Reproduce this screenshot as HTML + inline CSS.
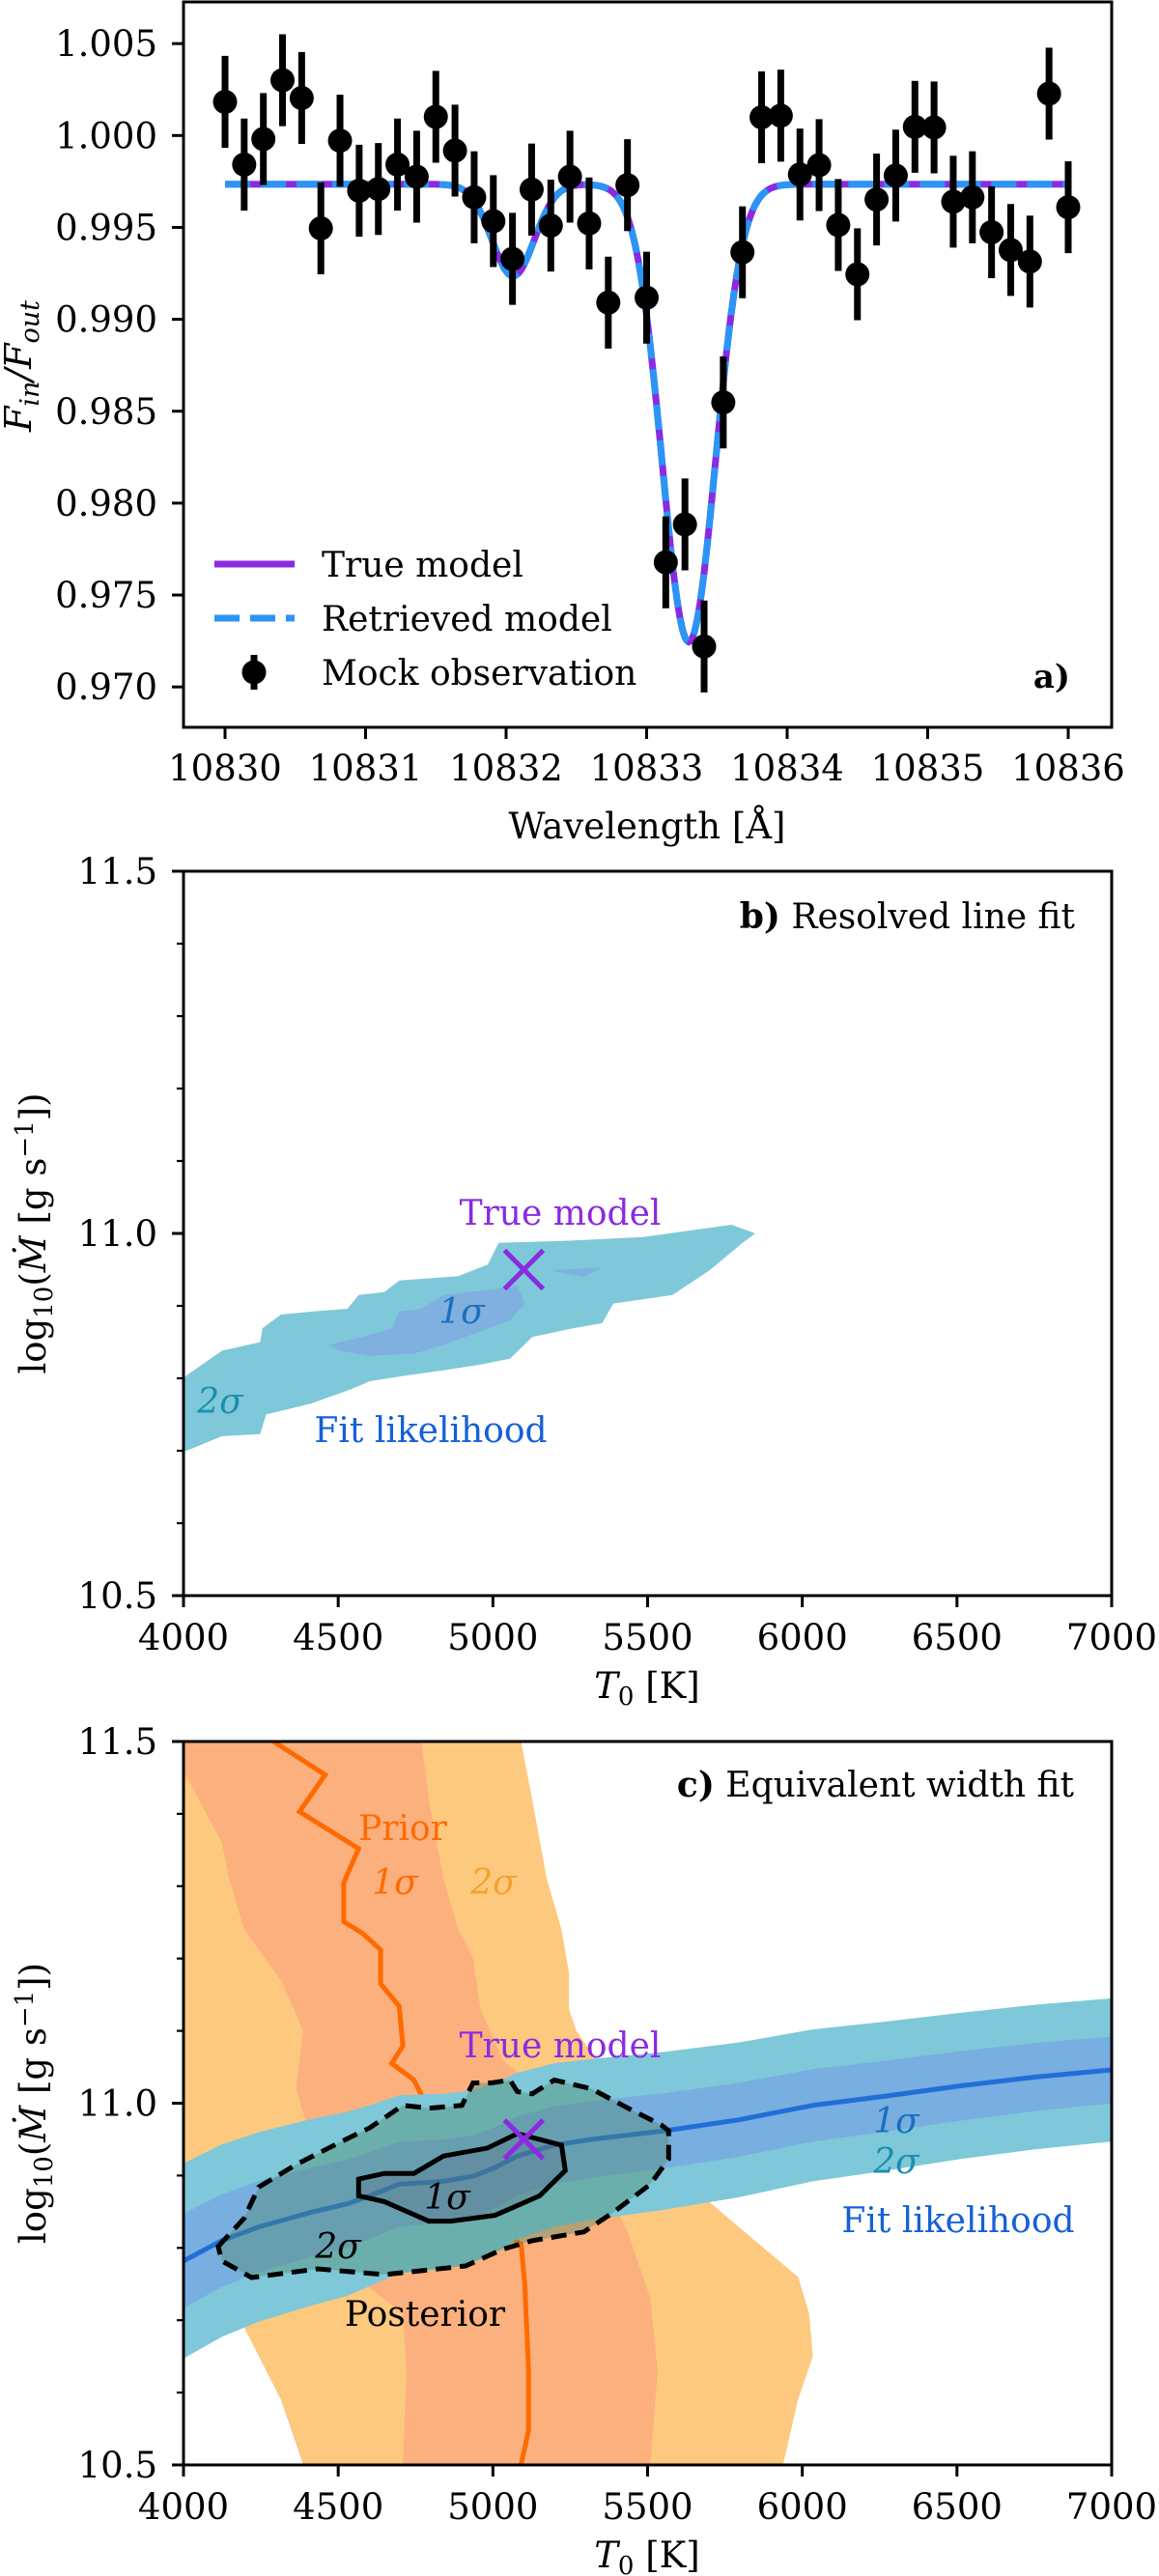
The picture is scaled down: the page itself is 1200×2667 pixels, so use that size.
<!DOCTYPE html>
<html><head><meta charset="utf-8"><style>
html,body{margin:0;padding:0;background:#fff;}
svg{display:block;font-family:"DejaVu Serif","Liberation Serif",serif;}
</style></head><body>
<svg id="fig" width="1200" height="2667" viewBox="0 0 1200 2667" xmlns="http://www.w3.org/2000/svg"></svg>
<script>
// ---------- Panel a data ----------
const obsFlux = [1.00183,0.99842,0.99981,1.00301,1.00204,0.99495,0.99972,0.99700,0.99709,0.99842,0.99776,1.00102,0.99918,0.99664,0.99534,0.99329,0.99706,0.99510,0.99776,0.99522,0.99091,0.99730,0.99118,0.97678,0.97884,0.97220,0.98548,0.99365,1.00099,1.00108,0.99788,0.99839,0.99513,0.99245,0.99652,0.99782,1.00047,1.00044,0.99640,0.99664,0.99474,0.99377,0.99314,1.00228,0.99610];
const obsErr = 0.0025;
const obsStart = 10830, obsEnd = 10836;
const modelBaseline = 0.99735;
const lineCenters = [10832.05, 10833.30];
const lineDepths = [0.0050, 0.0249];
const lineSigmas = [0.15, 0.19];
const aYTicks = [1.005,1.000,0.995,0.990,0.985,0.980,0.975,0.970];
const aXTicks = [10830,10831,10832,10833,10834,10835,10836];
// ---------- Panel b data ----------
const bSig2T = [4000,4010,4124,4248,4255,4315,4411,4530,4566,4649,4697,4888,4983,5019,5246,5485,5771,5848,5807,5700,5580,5389,5353,5258,5127,5055,4960,4840,4721,4602,4542,4411,4267,4248,4124,4010,4000];
const bSig2M = [10.80,10.804,10.838,10.850,10.869,10.888,10.892,10.896,10.915,10.919,10.935,10.941,10.957,10.987,10.990,10.995,11.012,11.000,10.987,10.949,10.915,10.903,10.876,10.869,10.857,10.827,10.819,10.811,10.804,10.796,10.785,10.765,10.750,10.723,10.720,10.700,10.700];
const bSig1T = [4470,4578,4673,4697,4769,4840,4983,5079,5103,5055,4936,4840,4745,4602,4506];
const bSig1M = [10.846,10.857,10.869,10.892,10.896,10.915,10.922,10.928,10.903,10.880,10.861,10.846,10.834,10.831,10.838];
const bBlobT = [5186,5353,5294];
const bBlobM = [10.949,10.953,10.940];
const trueT = 5100, trueM = 10.95;
const xTicksT = [4000,4500,5000,5500,6000,6500,7000];
const yTicksM = [11.5,11.0,10.5];
// ---------- Panel c data ----------
const prior2T = [4000,4000,4196,4315,4387,5938,5986,6034,6022,5986,5819,5600,5450,5401,5318,5270,5246,5246,5222,5174,5127,5091];
const prior2M = [11.5,10.90,10.69,10.59,10.50,10.50,10.59,10.65,10.71,10.76,10.82,10.90,10.98,11.03,11.07,11.10,11.13,11.18,11.24,11.31,11.42,11.5];
const prior1T = [4000,4000,4124,4148,4196,4315,4387,4363,4450,4554,4709,4721,4709,5509,5532,5509,5437,5350,5200,5031,4960,4936,4888,4840,4793,4769];
const prior1M = [11.5,11.46,11.36,11.31,11.24,11.17,11.10,11.02,10.90,10.76,10.71,10.63,10.50,10.50,10.63,10.73,10.82,10.90,11.00,11.06,11.13,11.20,11.24,11.31,11.42,11.5];
const priorLineT = [4291,4458,4375,4506,4566,4518,4518,4578,4637,4637,4697,4709,4673,4745,4781,4840,4936,4960,5007,5091,5103,5115,5115,5091];
const priorLineM = [11.5,11.454,11.403,11.368,11.352,11.305,11.251,11.235,11.212,11.165,11.134,11.079,11.055,11.032,11.001,10.946,10.915,10.868,10.829,10.805,10.751,10.634,10.548,10.50];
const fitT = [4000,4124,4243,4411,4530,4602,4697,4840,4936,5007,5079,5198,5318,5557,5795,6034,6273,6512,6750,7000];
const fitM = [10.782,10.810,10.829,10.849,10.861,10.872,10.888,10.892,10.899,10.911,10.927,10.942,10.950,10.962,10.977,10.997,11.010,11.024,11.036,11.046];
const fitHw1 = [0.065,0.064,0.063,0.062,0.061,0.060,0.059,0.058,0.057,0.056,0.055,0.054,0.053,0.052,0.051,0.050,0.049,0.048,0.047,0.046];
const fitHw2 = [0.135,0.133,0.131,0.129,0.127,0.125,0.123,0.121,0.119,0.117,0.115,0.113,0.111,0.109,0.107,0.105,0.103,0.101,0.100,0.099];
const post2T = [4112,4196,4243,4363,4506,4602,4709,4793,4900,4936,4995,5055,5079,5127,5198,5318,5437,5544,5568,5568,5509,5389,5294,5127,5031,4912,4649,4434,4220,4124];
const post2M = [10.802,10.841,10.884,10.915,10.946,10.966,10.997,10.993,10.997,11.028,11.028,11.032,11.016,11.013,11.032,11.020,10.993,10.970,10.962,10.923,10.888,10.849,10.822,10.810,10.798,10.775,10.763,10.771,10.759,10.782];
const post1T = [4566,4649,4745,4840,4983,5079,5222,5234,5151,5007,4864,4793,4649,4566];
const post1M = [10.895,10.903,10.903,10.927,10.938,10.958,10.942,10.907,10.872,10.845,10.837,10.837,10.864,10.872];

const NS = "http://www.w3.org/2000/svg";
const svg = document.getElementById('fig');
function mk(tag, attrs, parent){
  const e = document.createElementNS(NS, tag);
  for (const k in attrs) e.setAttribute(k, attrs[k]);
  (parent||svg).appendChild(e);
  return e;
}
const L = 190, R = 1151;
const aTop = 2, aBot = 753;
const ax = v => 233 + (v - 10830) * 145.5;
const ay = v => 140.3 + (1.000 - v) / 0.005 * 95.15;
const tx = v => L + (v - 4000) / 3000 * (R - L);
const bTop = 902, bBot = 1652, cTop = 1803, cBot = 2552;
const by = v => bBot - (v - 10.5) * (bBot - bTop);
const cy = v => cBot - (v - 10.5) * (cBot - cTop);

function poly(T, M, xs, ys){ return T.map((t,i)=>xs(t).toFixed(1)+','+ys(M[i]).toFixed(1)).join(' '); }
function txt(x,y,s,opt){
  const e = mk('text', Object.assign({x:x,y:y,'font-size':36,fill:'#000'}, opt||{}));
  e.textContent = s; return e;
}

// ===== Panel a =====
const gA = mk('g', {});


const model = [];
for (let i=0;i<=600;i++){
  const w = obsStart + (obsEnd-obsStart)*i/600;
  let f = modelBaseline;
  for (let k=0;k<lineCenters.length;k++) f -= lineDepths[k]*Math.exp(-0.5*Math.pow((w-lineCenters[k])/lineSigmas[k],2));
  model.push(ax(w).toFixed(1)+','+ay(f).toFixed(1));
}
const trueLine = mk('polyline',{points:model.join(' '),fill:'none',stroke:'#8a2be2','stroke-width':7},gA);


const retLine = mk('polyline',{points:model.join(' '),fill:'none',stroke:'#2b95f5','stroke-width':7,'stroke-dasharray':'26 11'},gA);


obsFlux.forEach((f,i)=>{
  const w = obsStart + (obsEnd-obsStart)*i/(obsFlux.length-1);
  const g = mk('g',{},gA);
  
  
  mk('line',{x1:ax(w),x2:ax(w),y1:ay(f+obsErr),y2:ay(f-obsErr),stroke:'#000','stroke-width':7},g);
  mk('circle',{cx:ax(w),cy:ay(f),r:12.5,fill:'#000'},g);
});
aYTicks.forEach(v=>{
  mk('line',{x1:L-12,x2:L,y1:ay(v),y2:ay(v),stroke:'#000','stroke-width':3},gA);
  gA.appendChild(txt(163,ay(v)+13,v.toFixed(3),{'text-anchor':'end','font-size':37}));
});
aXTicks.forEach(v=>{
  mk('line',{x1:ax(v),x2:ax(v),y1:aBot,y2:aBot+12,stroke:'#000','stroke-width':3},gA);
  gA.appendChild(txt(ax(v),808,String(v),{'text-anchor':'middle','font-size':37}));
});
mk('rect',{x:L,y:aTop,width:R-L,height:aBot-aTop,fill:'none',stroke:'#000','stroke-width':3},gA);
const leg = mk('g',{},gA);


mk('line',{x1:222,x2:305,y1:584,y2:584,stroke:'#8a2be2','stroke-width':7},leg);
mk('line',{x1:222,x2:305,y1:640,y2:640,stroke:'#2b95f5','stroke-width':7,'stroke-dasharray':'26 11'},leg);
mk('line',{x1:263,x2:263,y1:678,y2:714,stroke:'#000','stroke-width':7},leg);
mk('circle',{cx:263,cy:696,r:12.5,fill:'#000'},leg);
leg.appendChild(txt(333,597,'True model'));
leg.appendChild(txt(333,653,'Retrieved model'));
leg.appendChild(txt(333,709,'Mock observation'));
const aLab = txt(1108,712,'a)',{'text-anchor':'end','font-weight':'bold','font-size':34}); gA.appendChild(aLab);


const aXt = txt(670,868,'Wavelength [Å]',{'text-anchor':'middle','font-size':37}); gA.appendChild(aXt);


const aYt = mk('text',{x:0,y:0,'font-size':38,'font-style':'italic','text-anchor':'middle',transform:'translate(32,379) rotate(-90)'},gA);
aYt.innerHTML = 'F<tspan font-size="27" dy="8">in</tspan><tspan dy="-8">/F</tspan><tspan font-size="27" dy="8">out</tspan>';



function tAxes(g, top, bot, ys, xtitleY){
  for (let m=10.5;m<=11.5001;m+=0.1){
    mk('line',{x1:L-7,x2:L,y1:ys(m),y2:ys(m),stroke:'#000','stroke-width':2.2},g);
  }
  yTicksM.forEach(v=>{
    mk('line',{x1:L-12,x2:L,y1:ys(v),y2:ys(v),stroke:'#000','stroke-width':3},g);
    g.appendChild(txt(163,ys(v)+13,v.toFixed(1),{'text-anchor':'end','font-size':37}));
  });
  xTicksT.forEach(v=>{
    mk('line',{x1:tx(v),x2:tx(v),y1:bot,y2:bot+12,stroke:'#000','stroke-width':3},g);
    g.appendChild(txt(tx(v),bot+56,String(v),{'text-anchor':'middle','font-size':37}));
  });
  mk('rect',{x:L,y:top,width:R-L,height:bot-top,fill:'none',stroke:'#000','stroke-width':3},g);
  const xt = mk('text',{x:670,y:xtitleY,'font-size':37,'text-anchor':'middle'},g);
  xt.innerHTML = '<tspan font-style="italic">T</tspan><tspan font-size="26" dy="7">0</tspan><tspan dy="-7"> [K]</tspan>';
  
  
  const yt = mk('text',{x:0,y:0,'font-size':37,'text-anchor':'middle',transform:'translate(47,'+((top+bot)/2)+') rotate(-90)'},g);
  yt.innerHTML = 'log<tspan font-size="26" dy="7">10</tspan><tspan dy="-7">(</tspan><tspan font-style="italic">Ṁ</tspan> [g s<tspan font-size="26" dy="-13">−1</tspan><tspan dy="13">])</tspan>';
  
  
}
function cross(g,x,y){
  const c = mk('g',{},g);
  
  
  mk('line',{x1:x-20,y1:y-20,x2:x+20,y2:y+20,stroke:'#8a2be2','stroke-width':5},c);
  mk('line',{x1:x-20,y1:y+20,x2:x+20,y2:y-20,stroke:'#8a2be2','stroke-width':5},c);
}

// ===== Panel b =====
const gB = mk('g',{});


const b2 = mk('polygon',{points:poly(bSig2T,bSig2M,tx,by),fill:'#7ec8d9'},gB);


const b1 = mk('polygon',{points:poly(bSig1T,bSig1M,tx,by),fill:'#7fb0df'},gB);


mk('polygon',{points:poly(bBlobT,bBlobM,tx,by),fill:'#7fb0df'},gB);
cross(gB,tx(trueT),by(trueM));
gB.appendChild(txt(580,1268,'True model',{'text-anchor':'middle',fill:'#8a2be2'}));
gB.appendChild(txt(478,1370,'1σ',{'text-anchor':'middle',fill:'#1a6fbf','font-style':'italic'}));
gB.appendChild(txt(228,1463,'2σ',{'text-anchor':'middle',fill:'#1a8fb0','font-style':'italic'}));
gB.appendChild(txt(446,1493,'Fit likelihood',{'text-anchor':'middle',fill:'#1560d8'}));
const bl = mk('text',{x:1113,y:961,'font-size':36,'text-anchor':'end'},gB);
bl.innerHTML = '<tspan font-weight="bold">b)</tspan> Resolved line fit';


tAxes(gB,bTop,bBot,by,1758);

// ===== Panel c =====
const gC = mk('g',{});


const clipC = mk('clipPath',{id:'clipC'}); mk('rect',{x:L,y:cTop,width:R-L,height:cBot-cTop},clipC);
const gCc = mk('g',{'clip-path':'url(#clipC)'},gC);
const p2 = mk('polygon',{points:poly(prior2T,prior2M,tx,cy),fill:'#fdc97e'},gCc);


const p1 = mk('polygon',{points:poly(prior1T,prior1M,tx,cy),fill:'#fbb07e'},gCc);


const pl = mk('polyline',{points:poly(priorLineT,priorLineM,tx,cy),fill:'none',stroke:'#ff6a00','stroke-width':5},gCc);


function band(hw){
  const up = fitT.map((t,i)=>tx(t).toFixed(1)+','+cy(fitM[i]+hw[i]).toFixed(1));
  const dn = fitT.map((t,i)=>tx(t).toFixed(1)+','+cy(fitM[i]-hw[i]).toFixed(1)).reverse();
  return up.concat(dn).join(' ');
}
const f2 = mk('polygon',{points:band(fitHw2),fill:'#7ec8d9'},gCc);


const f1 = mk('polygon',{points:band(fitHw1),fill:'#78aee0'},gCc);


const fl = mk('polyline',{points:poly(fitT,fitM,tx,cy),fill:'none',stroke:'#1f6fd6','stroke-width':5},gCc);


const q2 = mk('polygon',{points:poly(post2T,post2M,tx,cy),fill:'#4f8a6a','fill-opacity':0.4,stroke:'#000','stroke-width':5,'stroke-dasharray':'16 9'},gCc);


const q1 = mk('polygon',{points:poly(post1T,post1M,tx,cy),fill:'#5a6a80','fill-opacity':0.3,stroke:'#000','stroke-width':5},gCc);


cross(gC,tx(trueT),cy(trueM));
gC.appendChild(txt(580,2130,'True model',{'text-anchor':'middle',fill:'#8a2be2'}));
gC.appendChild(txt(417,1905,'Prior',{'text-anchor':'middle',fill:'#ff6a00'}));
gC.appendChild(txt(409,1961,'1σ',{'text-anchor':'middle',fill:'#ff6a00','font-style':'italic'}));
gC.appendChild(txt(511,1961,'2σ',{'text-anchor':'middle',fill:'#f5a030','font-style':'italic'}));
gC.appendChild(txt(928,2208,'1σ',{'text-anchor':'middle',fill:'#1a6fbf','font-style':'italic'}));
gC.appendChild(txt(928,2250,'2σ',{'text-anchor':'middle',fill:'#1a8fb0','font-style':'italic'}));
gC.appendChild(txt(992,2311,'Fit likelihood',{'text-anchor':'middle',fill:'#1560d8'}));
gC.appendChild(txt(463,2287,'1σ',{'text-anchor':'middle','font-style':'italic'}));
gC.appendChild(txt(350,2338,'2σ',{'text-anchor':'middle','font-style':'italic'}));
gC.appendChild(txt(440,2408,'Posterior',{'text-anchor':'middle'}));
const cl = mk('text',{x:1112,y:1860,'font-size':36,'text-anchor':'end'},gC);
cl.innerHTML = '<tspan font-weight="bold">c)</tspan> Equivalent width fit';


tAxes(gC,cTop,cBot,cy,2658);
</script>
</body></html>
